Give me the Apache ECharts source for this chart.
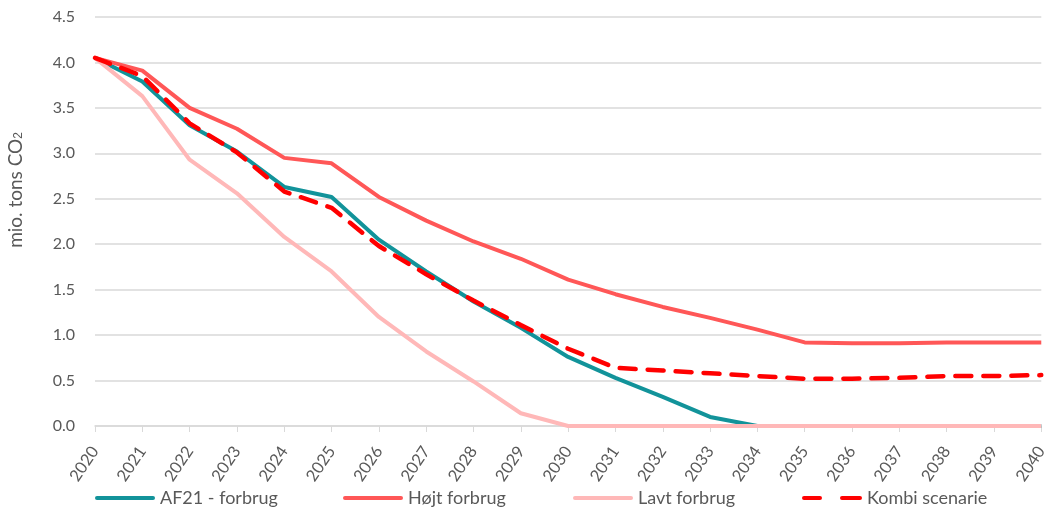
<!DOCTYPE html>
<html><head><meta charset="utf-8">
<script src="https://cdn.jsdelivr.net/npm/echarts@6/dist/echarts.min.js"></script>
<style>html,body{margin:0;padding:0;background:#fff}#c{width:1050px;height:515px}</style>
</head><body><div id="c"></div>
<script>
const years = ['2020','2021','2022','2023','2024','2025','2026','2027','2028','2029','2030','2031','2032','2033','2034','2035','2036','2037','2038','2039','2040'];
const af21 = [4.05,3.79,3.31,3.02,2.63,2.52,2.05,1.70,1.37,1.08,0.76,0.53,0.32,0.10,0,0,0,0,0,0,0];
const hojt = [4.05,3.91,3.50,3.27,2.95,2.89,2.52,2.26,2.03,1.84,1.61,1.45,1.31,1.19,1.06,0.92,0.91,0.91,0.92,0.92,0.92];
const lavt = [4.05,3.63,2.93,2.56,2.08,1.70,1.20,0.82,0.49,0.14,0,0,0,0,0,0,0,0,0,0,0];
const kombi = [4.05,3.85,3.33,3.01,2.58,2.40,1.98,1.67,1.38,1.11,0.85,0.64,0.61,0.58,0.55,0.52,0.52,0.53,0.55,0.55,0.56];
const names = ['AF21 - forbrug','Højt forbrug','Lavt forbrug','Kombi scenarie'];
const font = 'Lato, "Open Sans", sans-serif';
const solidIcon = 'path://M2,0 L58,0 A2,2 0 0 1 58,4 L2,4 A2,2 0 0 1 2,0 Z';
const dashIcon = 'path://M2,0 L18,0 A2,2 0 0 1 18,4 L2,4 A2,2 0 0 1 2,0 Z M40,0 L58,0 A2,2 0 0 1 58,4 L40,4 A2,2 0 0 1 40,0 Z';
const chart = echarts.init(document.getElementById('c'));
const legendLefts = [90, 338, 568, 797];
chart.setOption({
  animation:false,
  textStyle:{fontFamily:font},
  grid:{left:95,right:5,top:17,bottom:89,containLabel:false},
  legend: names.map((n,i)=>({data:[{name:n,icon:i===3?dashIcon:solidIcon}],left:legendLefts[i],bottom:3,itemWidth:60,itemHeight:4.5,itemGap:6,
    textStyle:{color:'#595959',fontSize:18,fontFamily:font}})),
  graphic:[{type:'text',left:6,top:132,rotation:Math.PI/2,
    style:{text:'mio. tons CO{s|2}',fill:'#595959',font:'19px '+font,
      rich:{s:{fontSize:12,fill:'#595959',verticalAlign:'bottom',padding:[7,0,0,0]}}}}],
  xAxis:{type:'category',data:years,boundaryGap:false,
    axisLine:{lineStyle:{color:'#d9d9d9',width:1.5}},
    axisTick:{show:true,alignWithLabel:true,length:6,lineStyle:{color:'#d9d9d9'}},
    axisLabel:{rotate:56,color:'#595959',fontSize:16.5,margin:22,interval:0}},
  yAxis:{type:'value',min:0,max:4.5,interval:0.5,
    axisLine:{show:false},axisTick:{show:false},
    axisLabel:{color:'#595959',fontSize:16,margin:20,formatter:v=>v.toFixed(1)},
    splitLine:{lineStyle:{color:'#d9d9d9',width:1.5}}},
  series:[
    {name:names[0],type:'line',data:af21,symbol:'none',lineStyle:{color:'#12939a',width:4},itemStyle:{color:'#12939a'},z:2},
    {name:names[1],type:'line',data:hojt,symbol:'none',lineStyle:{color:'#ff5757',width:4},itemStyle:{color:'#ff5757'},z:2},
    {name:names[2],type:'line',data:lavt,symbol:'none',lineStyle:{color:'#ffb8b8',width:4},itemStyle:{color:'#ffb8b8'},z:3},
    {name:names[3],type:'line',data:kombi,symbol:'none',lineStyle:{color:'#ff0000',width:4.5,type:[16,12],cap:'round'},itemStyle:{color:'#ff0000'},z:4}
  ]
});
</script></body></html>
